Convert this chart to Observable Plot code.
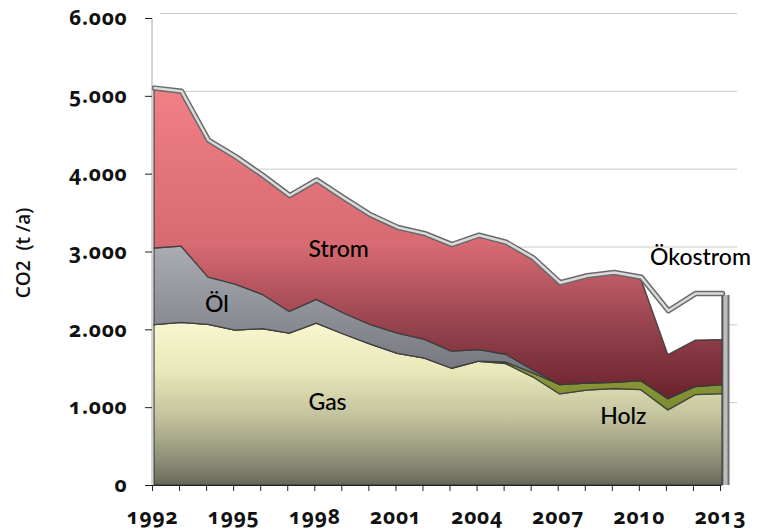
<!DOCTYPE html>
<html><head><meta charset="utf-8">
<script src="https://cdn.jsdelivr.net/npm/d3@7"></script>
<script src="https://cdn.jsdelivr.net/npm/@observablehq/plot@0.6"></script>
<style>
body{margin:0;background:#fff;}
#chart svg{font-family:"Open Sans",sans-serif;}
.tk text{font-family:"Open Sans",sans-serif;font-weight:700;font-size:21px;fill:#111;font-variant-numeric:oldstyle-nums;letter-spacing:0.8px;}
.lbl text{font-family:Lato,sans-serif;font-size:23px;fill:#000;font-weight:500;}
</style></head><body><div id="chart"></div>
<script>
const years = [1992,1993,1994,1995,1996,1997,1998,1999,2000,2001,2002,2003,2004,2005,2006,2007,2008,2009,2010,2011,2012,2013];
const seriesNames = ["Gas","Holz","Öl","Strom","Ökostrom"];
const gas     = [2060,2090,2065,1990,2010,1950,2080,1940,1810,1690,1630,1500,1590,1560,1390,1170,1220,1240,1225,965,1160,1175];
const holz    = [0,0,0,0,0,0,0,0,0,0,0,0,0,20,50,120,90,80,115,145,105,115];
const oel     = [985,980,605,590,440,280,305,270,250,260,240,220,150,100,40,0,0,0,0,0,0,0];
const strom   = [2035,1970,1740,1620,1510,1470,1515,1460,1390,1340,1340,1350,1450,1420,1420,1290,1360,1390,1310,565,595,580];
const oeko    = [0,0,0,0,0,0,0,0,0,0,0,0,0,0,0,0,0,0,0,545,580,570];
const yTicks = [0,1000,2000,3000,4000,5000,6000];
const xLabelYears = [1992,1995,1998,2001,2004,2007,2010,2013];
const labelNames = ["Strom","Öl","Gas","Holz","Ökostrom"];
const labelX = [1998.88,1994.38,1998.47,2009.41,2012.26];
const labelY = [3030,2330,1060,890,2930];
const yLabel = "CO2  (t /a)";

const valuesBySeries = {"Gas":gas,"Holz":holz,"Öl":oel,"Strom":strom,"Ökostrom":oeko};
const rows = [];
for (const s of seriesNames) years.forEach((yr,i)=>rows.push({year:yr, series:s, value:valuesBySeries[s][i]}));
const totals = years.map((yr,i)=>({year:yr, total: seriesNames.reduce((a,s)=>a+valuesBySeries[s][i],0)}));
const last = totals[totals.length-1];
const labels = labelNames.map((t,i)=>({text:t, x:labelX[i], y:labelY[i]}));

const locale = d3.formatLocale({decimal:",", thousands:".", grouping:[3], currency:["","€"]});
const fmt = locale.format(",");

const chart = Plot.plot({
  width: 769, height: 531,
  marginLeft: 152, marginRight: 49, marginTop: 18, marginBottom: 46,
  x: {domain:[1992,2013]},
  y: {domain:[0,6000]},
  color: {domain: seriesNames, range: ["url(#gGas)","url(#gHolz)","url(#gOel)","url(#gStrom)","#ffffff"]},
  marks: [
    Plot.ruleY(yTicks.filter(d=>d>0), {dy:-5, insetLeft:8, insetRight:-17, stroke:"#c9c9c9", strokeWidth:1}),
    Plot.ruleX([1992], {y1:0, y2:6000, stroke:"#aaaaaa", strokeWidth:1, dx:-0.5}),
    Plot.ruleX([last], {x:"year", y1:0, y2:"total", dx:5, stroke:"#6f6f6f", strokeWidth:8}),
    Plot.ruleX([last], {x:"year", y1:0, y2:"total", dx:5, stroke:"#bdbdbd", strokeWidth:4}),
    Plot.areaY(rows, Plot.stackY({x:"year", y:"value", z:"series", order: seriesNames, fill:"series", stroke:"#3a3a3a", strokeWidth:1.3, strokeOpacity:0.85, dx:2})),
    Plot.lineY(totals, {x:"year", y:"total", dx:2, dy:-2, stroke:"#6a6a6a", strokeWidth:5.5}),
    Plot.lineY(totals, {x:"year", y:"total", dx:2, dy:-2, stroke:"#dadada", strokeWidth:2.5}),
    Plot.ruleY([0], {stroke:"#222", strokeWidth:1.2}),
    Plot.axisY({ticks: yTicks, tickFormat: d=>fmt(d), tickSize:7, tickPadding:18, label:null, className:"tk", stroke:"#222"}),
    Plot.axisX({ticks: years, tickFormat: d=>xLabelYears.includes(d)? String(d) : "", tickSize:6, tickPadding:18, label:null, className:"tk", stroke:"#222"}),
    Plot.text(labels, {x:"x", y:"y", text:"text", className:"lbl", textAnchor:"middle", lineAnchor:"middle"})
  ]
});

const svg = d3.select(chart);
const defs = svg.insert("defs", ":first-child");
function grad(id, stops){
  const g = defs.append("linearGradient").attr("id", id).attr("x1",0).attr("y1",0).attr("x2",0).attr("y2",1);
  stops.forEach(([o,c])=>g.append("stop").attr("offset",o).attr("stop-color",c));
}
grad("gStrom", [[0,"#f17f86"],[0.5,"#d76a72"],[0.78,"#93414c"],[1,"#6a222c"]]);
grad("gOel", [[0,"#aaacb3"],[1,"#6b6c73"]]);
grad("gGas", [[0,"#f8f6cf"],[0.3,"#e9e8ba"],[0.6,"#bfbf9b"],[0.85,"#8d8d77"],[1,"#67685a"]]);
grad("gHolz", [[0,"#a3ad4a"],[1,"#7b8a30"]]);

svg.append("text").text(yLabel)
  .attr("transform","translate(30,253) rotate(-90)")
  .attr("text-anchor","middle").attr("xml:space","preserve").style("white-space","pre")
  .attr("font-family","Open Sans, sans-serif").attr("font-weight",600).attr("font-size",19).attr("fill","#111");

document.getElementById("chart").appendChild(chart);
</script></body></html>
